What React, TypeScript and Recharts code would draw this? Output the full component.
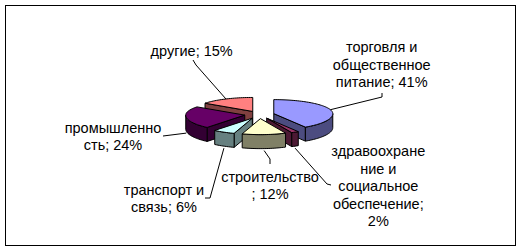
import React from 'react';
import { PieChart, Pie } from 'recharts';

// ---- data ----
const categories = [
  'торговля и общественное питание',
  'здравоохранение и социальное обеспечение',
  'строительство',
  'транспорт и связь',
  'промышленность',
  'другие',
];
const shares = [41, 2, 12, 6, 24, 15];
// wrapped label text ({v} = value)
const labelText = [
  ['торговля и', 'общественное', 'питание; {v}%'],
  ['здравоохране', 'ние и', 'социальное', 'обеспечение;', '{v}%'],
  ['строительство', '; {v}%'],
  ['транспорт и', 'связь; {v}%'],
  ['промышленно', 'сть; {v}%'],
  ['другие; {v}%'],
];

// ---- styles / layout ----
const topColors = ['#9999FF', '#993366', '#FFFFCC', '#CCFFFF', '#660066', '#FF8080'];
const sideColors = ['#4C4C80', '#4C1933', '#808066', '#668080', '#330033', '#804040'];
const paintOrder = [5, 0, 4, 3, 1, 2];
const labelAnchor = [
  [381.7, 52],
  [378.3, 156],
  [270, 181.5],
  [164, 194.5],
  [113, 132.7],
  [191.7, 56],
];
const leaderLabelSide = [
  [[382, 93], [382, 97]],
  [[331, 185], [327, 184]],
  [[270, 164], [270, 159]],
  [[205, 198], [210, 198]],
  [[163, 136]],
  [[193, 60], [196, 65]],
];

const data = categories.map((name, i) => ({ name, value: shares[i] }));

const W = 522;
const H = 251;
const CX = 259.5;
const CY = 114.6;
const RX = 59;
const RY_BACK = 14 / 59;
const RY_FRONT = 16 / 59;
const DEPTH = 14;
const EXPLODE = 0.252;
const FONT = '"Liberation Sans", Arial, sans-serif';
const FS = 14.5;
const LH = 17.5;

const rad = (a: number) => (a * Math.PI) / 180;
const ryOf = (a: number, r: number) => (Math.sin(rad(a)) > 0 ? RY_BACK : RY_FRONT) * r;

function apexOf(p: any) {
  const m = p.midAngle;
  const r = p.outerRadius;
  return [
    p.cx + EXPLODE * r * Math.cos(rad(m)),
    p.cy - EXPLODE * ryOf(m, r) * Math.sin(rad(m)),
  ];
}
function rimPoint(ax: number, ay: number, a: number, r: number) {
  return [ax + r * Math.cos(rad(a)), ay - ryOf(a, r) * Math.sin(rad(a))];
}
function arcPts(ax: number, ay: number, a1: number, a2: number, r: number) {
  const n = Math.max(2, Math.ceil(Math.abs(a1 - a2) / 2));
  const pts: number[][] = [];
  for (let k = 0; k <= n; k++) {
    const a = a1 + ((a2 - a1) * k) / n;
    pts.push(rimPoint(ax, ay, a, r));
  }
  return pts;
}
const toPath = (pts: number[][]) =>
  'M' + pts.map((p) => `${p[0].toFixed(2)},${p[1].toFixed(2)}`).join('L') + 'Z';

function Slice3D(p: any) {
  const i = p.index;
  const r = p.outerRadius;
  const [ax, ay] = apexOf(p);
  const a1 = p.startAngle;
  const a2 = p.endAngle;
  const top = topColors[i];
  const side = sideColors[i];
  const faces: React.ReactNode[] = [];
  const s1 = rimPoint(ax, ay, a1, r);
  const s2 = rimPoint(ax, ay, a2, r);
  if (Math.cos(rad(a1)) < -1e-6) {
    faces.push(
      <path key="f1" d={toPath([[ax, ay], s1, [s1[0], s1[1] + DEPTH], [ax, ay + DEPTH]])} fill={side} stroke="#000" strokeWidth={1} strokeLinejoin="round" />
    );
  }
  if (Math.cos(rad(a2)) > 1e-6) {
    faces.push(
      <path key="f2" d={toPath([[ax, ay], s2, [s2[0], s2[1] + DEPTH], [ax, ay + DEPTH]])} fill={side} stroke="#000" strokeWidth={1} strokeLinejoin="round" />
    );
  }
  const hi = Math.min(a1, 0);
  const lo = Math.max(a2, -180);
  if (hi > lo) {
    const upper = arcPts(ax, ay, hi, lo, r);
    const lower = upper.map((q) => [q[0], q[1] + DEPTH]).reverse();
    faces.push(
      <path key="w" d={toPath([...upper, ...lower])} fill={side} stroke="#000" strokeWidth={1} strokeLinejoin="round" />
    );
  }
  const topPts = [[ax, ay], ...arcPts(ax, ay, a1, a2, r)];
  faces.push(
    <path key="t" d={toPath(topPts)} fill={top} stroke="#000" strokeWidth={1} strokeLinejoin="round" />
  );
  return <g>{faces}</g>;
}

function sliceLayer(target: number) {
  return (p: any) => {
    if (p.index !== target) return <g />;
    return <Slice3D {...p} />;
  };
}

function LabelItem(p: any) {
  const i = p.index;
  const r = p.outerRadius;
  const [ax, ay] = apexOf(p);
  const m = p.midAngle;
  const rp = rimPoint(ax, ay, m, r);
  const front = Math.sin(rad(m)) < 0;
  const attach = front ? [rp[0], rp[1] + DEPTH + 2] : rp;
  const pts = [...leaderLabelSide[i], attach];
  const [lx, ly] = labelAnchor[i];
  const lines = labelText[i].map((t) => t.replace('{v}', String(shares[i])));
  return (
    <g>
      <polyline points={pts.map((q) => q.join(',')).join(' ')} fill="none" stroke="#000" strokeWidth={1} />
      <text x={lx} y={ly} textAnchor="middle" fontFamily={FONT} fontSize={FS} fill="#000">
        {lines.map((t, k) => (
          <tspan key={k} x={lx} y={ly + k * LH}>
            {t}
          </tspan>
        ))}
      </text>
    </g>
  );
}

export default function App() {
  return (
    <div style={{ position: 'absolute', left: 0, top: 0, width: W, height: H, background: '#fff' }}>
      <div
        style={{
          position: 'absolute',
          left: 5,
          top: 5,
          width: 509,
          height: 239,
          border: '1px solid #000',
        }}
      />
      <div style={{ position: 'absolute', left: 0, top: 0 }}>
        <PieChart width={W} height={H} margin={{ top: 0, right: 0, bottom: 0, left: 0 }}>
          {paintOrder.map((idx) => (
            <Pie
              key={'layer' + idx}
              data={data}
              dataKey="value"
              nameKey="name"
              cx={CX}
              cy={CY}
              innerRadius={0}
              outerRadius={RX}
              startAngle={90}
              endAngle={-270}
              fill="none"
              stroke="none"
              isAnimationActive={false}
              labelLine={false}
              label={sliceLayer(idx)}
            />
          ))}
          <Pie
            key="labels"
            data={data}
            dataKey="value"
            nameKey="name"
            cx={CX}
            cy={CY}
            innerRadius={0}
            outerRadius={RX}
            startAngle={90}
            endAngle={-270}
            fill="none"
            stroke="none"
            isAnimationActive={false}
            labelLine={false}
            label={(p: any) => <LabelItem {...p} />}
          />
        </PieChart>
      </div>
    </div>
  );
}
